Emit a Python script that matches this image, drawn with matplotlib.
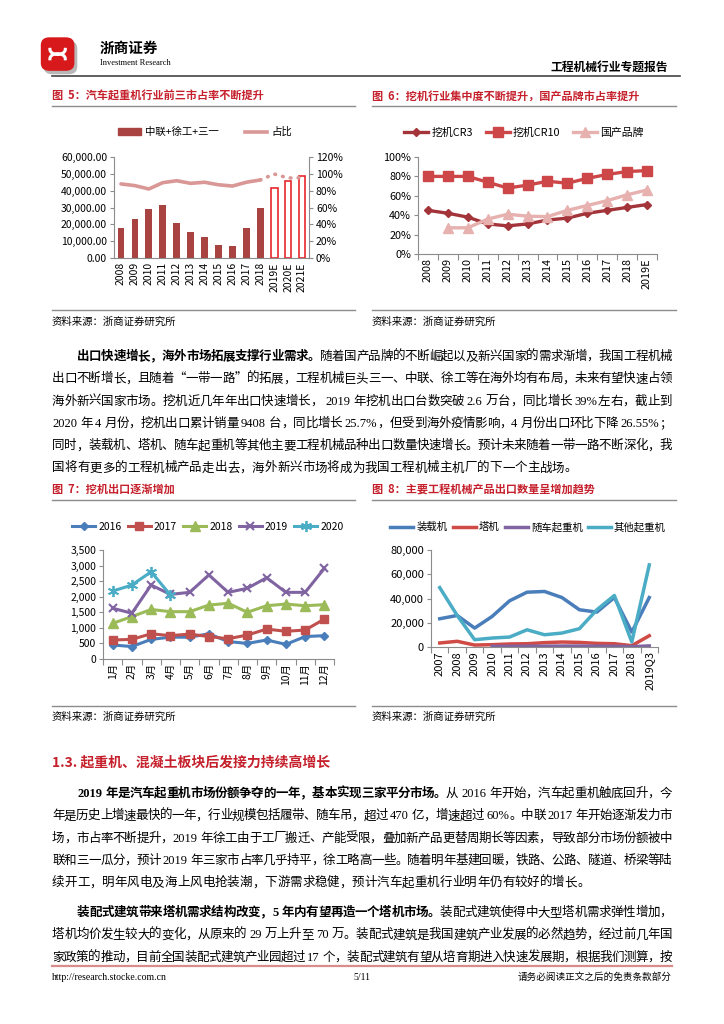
import re
import matplotlib
matplotlib.use('Agg')
import matplotlib.pyplot as plt
import numpy as np
from matplotlib.patches import FancyBboxPatch, Rectangle
from matplotlib.lines import Line2D

plt.rcParams['font.family'] = ['Noto Sans CJK SC', 'DejaVu Sans']
plt.rcParams['axes.unicode_minus'] = False

# ---- data ----
# fig 5: truck crane, top 3 (zoomlion + xcmg + sany)
years5 = ['2008', '2009', '2010', '2011', '2012', '2013', '2014', '2015', '2016',
          '2017', '2018', '2019E', '2020E', '2021E']
top3_sales = [17800, 23200, 29100, 31500, 20800, 15500, 12500, 7900, 7400,
              18000, 29600, 41500, 45500, 48500]
top3_share = [0.88, 0.86, 0.82, 0.895, 0.918, 0.887, 0.90, 0.87, 0.855,
              0.90, 0.927, 0.998, 0.95, 0.955]
n_actual5 = 11

# fig 6: excavator concentration
years6 = ['2008', '2009', '2010', '2011', '2012', '2013', '2014', '2015', '2016',
          '2017', '2018', '2019E']
cr3 = [0.45, 0.42, 0.38, 0.31, 0.29, 0.31, 0.35, 0.37, 0.42, 0.45, 0.48, 0.51]
cr10 = [0.80, 0.80, 0.80, 0.74, 0.68, 0.71, 0.75, 0.73, 0.78, 0.82, 0.85, 0.86]
domestic = [np.nan, 0.27, 0.27, 0.36, 0.41, 0.39, 0.385, 0.45, 0.50, 0.55, 0.61, 0.66]

# fig 7: excavator exports by month
months = ['1月', '2月', '3月', '4月', '5月', '6月', '7月', '8月', '9月', '10月', '11月', '12月']
exp2016 = [450, 400, 630, 700, 700, 810, 560, 500, 610, 470, 720, 750]
exp2017 = [610, 630, 810, 750, 800, 720, 650, 770, 960, 890, 930, 1280]
exp2018 = [1145, 1360, 1590, 1520, 1520, 1730, 1790, 1500, 1710, 1765, 1710, 1745]
exp2019 = [1630, 1470, 2375, 2075, 2140, 2700, 2140, 2270, 2610, 2140, 2140, 2910]
exp2020 = [2180, 2375, 2800, 2055]

# fig 8: main products export volume
years8 = ['2007', '2008', '2009', '2010', '2011', '2012', '2013', '2014', '2015',
          '2016', '2017', '2018', '2019Q3']
loader = [23300, 26000, 15600, 25200, 38100, 45200, 45800, 40800, 30700, 28800, 40800, 12300, 40800]
tower = [3300, 4700, 1600, 1900, 2500, 2700, 3600, 4100, 3800, 3000, 2700, 1100, 9300]
truck_crane = [np.nan, np.nan, np.nan, 500, 600, 700, 700, 800, 800, 700, 600, 300, 900]
other_crane = [49000, 26000, 6000, 7400, 8200, 14200, 10100, 11500, 15100, 30700, 42500, 4100, 67700]

para1 = [
    [('出口快速增长，海外市场拓展支撑行业需求。', True), ('随着国产品牌的不断崛起以及新兴国家的需求渐增，我国工程机械', False)],
    [('出口不断增长，且随着“一带一路”的拓展，工程机械巨头三一、中联、徐工等在海外均有布局，未来有望快速占领', False)],
    [('海外新兴国家市场。挖机近几年年出口快速增长， 2019 年挖机出口台数突破 2.6 万台，同比增长 39%左右，截止到', False)],
    [('2020 年 4 月份，挖机出口累计销量 9408 台，同比增长 25.7%，但受到海外疫情影响，4 月份出口环比下降 26.55%；', False)],
    [('同时，装载机、塔机、随车起重机等其他主要工程机械品种出口数量快速增长。预计未来随着一带一路不断深化，我', False)],
    [('国将有更多的工程机械产品走出去，海外新兴市场将成为我国工程机械主机厂的下一个主战场。', False)],
]
para2 = [
    [('2019 年是汽车起重机市场份额争夺的一年，基本实现三家平分市场。', True), ('从 2016 年开始，汽车起重机触底回升，今', False)],
    [('年是历史上增速最快的一年，行业规模包括履带、随车吊，超过 470 亿，增速超过 60%。中联 2017 年开始逐渐发力市', False)],
    [('场，市占率不断提升，2019 年徐工由于工厂搬迁、产能受限，叠加新产品更替周期长等因素，导致部分市场份额被中', False)],
    [('联和三一瓜分，预计 2019 年三家市占率几乎持平，徐工略高一些。随着明年基建回暖，铁路、公路、隧道、桥梁等陆', False)],
    [('续开工，明年风电及海上风电抢装潮，下游需求稳健，预计汽车起重机行业明年仍有较好的增长。', False)],
]
para3 = [
    [('装配式建筑带来塔机需求结构改变，5 年内有望再造一个塔机市场。', True), ('装配式建筑使得中大型塔机需求弹性增加，', False)],
    [('塔机均价发生较大的变化，从原来的 29 万上升至 70 万。装配式建筑是我国建筑产业发展的必然趋势，经过前几年国', False)],
    [('家政策的推动，目前全国装配式建筑产业园超过 17 个，装配式建筑有望从培育期进入快速发展期，根据我们测算，按', False)],
]

W, H = 724, 1024
fig = plt.figure(figsize=(W / 100, H / 100), dpi=100)
RED = '#C5202B'
GRAY = '#8C8C8C'
CJK = 'Noto Sans CJK SC'
SERIF = ['Liberation Serif', 'Noto Sans CJK SC']


def box(x0, y0, x1, y1):
    return [x0 / W, 1 - y1 / H, (x1 - x0) / W, (y1 - y0) / H]


def ftext(x, y, s, **kw):
    return fig.text(x / W, 1 - y / H, s, **kw)


def hline(x0, x1, y, color, lw):
    fig.add_artist(Line2D([x0 / W, x1 / W], [1 - y / H, 1 - y / H], color=color, lw=lw))


renderer = fig.canvas.get_renderer()


def text_line(x0, x1, y, parts, justify=True, size=9.0):
    # place token by token so the line fills x0..x1 like the justified report text
    em = size * 100 / 72
    toks = []
    for s, bold in parts:
        for tok in re.findall(r'[A-Za-z0-9.%/]+| |.', s):
            toks.append((tok, bold))
    arts, widths = [], []
    for tok, bold in toks:
        wt = 'bold' if bold else 'light'
        if tok == ' ':
            arts.append(None)
            widths.append(em * 0.25)
        elif ord(tok[0]) > 0x2000:
            t = fig.text(0, 1 - y / H, tok, fontsize=size, family=CJK, weight=wt, va='baseline')
            arts.append(t)
            widths.append(em)
        else:
            t = fig.text(0, 1 - y / H, tok, fontsize=size, family=SERIF,
                         weight='bold' if bold else 'normal', va='baseline')
            arts.append(t)
            widths.append(t.get_window_extent(renderer).width + em * 0.05)
    gap = 0
    if justify and len(toks) > 1:
        gap = (x1 - x0 - sum(widths)) / (len(toks) - 1)
    x = x0
    for t, w in zip(arts, widths):
        if t is not None:
            t.set_x(x / W)
        x += w + gap


def paragraph(lines, y0, step=22.3, size=9.0):
    for i, parts in enumerate(lines):
        xs = 52 + 2 * size * 100 / 72 if i == 0 else 52
        last = i == len(lines) - 1 and not parts[-1][0].endswith(('，', '我', '按'))
        text_line(xs, 672, y0 + i * step, parts, justify=not last, size=size)


def style_axis(ax, size=7.5):
    for s in ['top', 'right']:
        ax.spines[s].set_visible(False)
    for s in ['left', 'bottom']:
        ax.spines[s].set_color(GRAY)
        ax.spines[s].set_linewidth(0.8)
    ax.tick_params(axis='y', length=3, width=0.8, color=GRAY, labelsize=size, pad=2)
    ax.tick_params(axis='x', which='major', length=0, labelsize=size, pad=3, rotation=90)
    ax.tick_params(axis='x', which='minor', length=4, width=0.8, color=GRAY)


def cat_ticks(ax, labels):
    n = len(labels)
    ax.set_xlim(-0.5, n - 0.5)
    ax.set_xticks(np.arange(n))
    ax.set_xticklabels(labels)
    ax.set_xticks(np.arange(-0.5, n, 1), minor=True)


# ---- header ----
lax = fig.add_axes(box(36, 33, 84, 76))
lax.set_xlim(0, 1)
lax.set_ylim(0, 1)
lax.axis('off')
lax.add_patch(FancyBboxPatch((0.2, 0.08), 0.62, 0.7, boxstyle='round,pad=0.04,rounding_size=0.18',
                             fc='#9A9A9A', ec='none', alpha=0.7))
lax.add_patch(FancyBboxPatch((0.14, 0.16), 0.62, 0.7, boxstyle='round,pad=0.04,rounding_size=0.18',
                             fc='#D7191C', ec='none'))
th = np.linspace(0, np.pi, 40)
lax.plot(0.45 + 0.16 * np.cos(th), 0.62 + 0.12 * np.sin(th) * -1, color='white', lw=2.2)
lax.plot(0.45 + 0.16 * np.cos(th), 0.40 + 0.12 * np.sin(th), color='white', lw=2.2)
ftext(100, 48, '浙商证券', fontsize=10.5, family=CJK, va='center', weight='bold')
ftext(100, 63, 'Investment Research', fontsize=6, family='Liberation Serif', va='center')
ftext(668, 67, '工程机械行业专题报告', fontsize=8.5, weight='bold', ha='right', va='center')
hline(52, 680, 76, '#444444', 1.2)

# ---- figure titles / sources ----
SRC = '资料来源：浙商证券研究所'
ftext(52, 96, '图  5：汽车起重机行业前三市占率不断提升', fontsize=8, weight='bold', color=RED, va='center')
ftext(372, 96, '图  6：挖机行业集中度不断提升，国产品牌市占率提升', fontsize=8, weight='bold', color=RED, va='center')
hline(52, 355, 106, GRAY, 1.0)
hline(372, 676, 106, GRAY, 1.0)
hline(52, 355, 310, GRAY, 1.0)
hline(372, 676, 310, GRAY, 1.0)
ftext(52, 322, SRC, fontsize=7.5, weight='light', va='center')
ftext(372, 322, SRC, fontsize=7.5, weight='light', va='center')

ftext(52, 489, '图  7：挖机出口逐渐增加', fontsize=8, weight='bold', color=RED, va='center')
ftext(372, 489, '图  8：主要工程机械产品出口数量呈增加趋势', fontsize=8, weight='bold', color=RED, va='center')
hline(52, 355, 500, GRAY, 1.0)
hline(372, 676, 500, GRAY, 1.0)
hline(52, 355, 706, GRAY, 1.0)
hline(372, 676, 706, GRAY, 1.0)
ftext(52, 717, SRC, fontsize=7.5, weight='light', va='center')
ftext(372, 717, SRC, fontsize=7.5, weight='light', va='center')

# ---- fig 5 ----
ax5 = fig.add_axes(box(114, 157, 309, 258))
x5 = np.arange(len(years5))
ax5.bar(x5[:n_actual5], top3_sales[:n_actual5], width=0.48, color='#A94341')
ax5.bar(x5[n_actual5:], top3_sales[n_actual5:], width=0.48, facecolor='white',
        edgecolor='#E8262B', lw=1.2)
ax5.set_ylim(0, 60000)
ax5.set_yticks(np.arange(0, 60001, 10000))
ax5.set_yticklabels([f'{v:,.2f}' for v in np.arange(0, 60001, 10000)])
style_axis(ax5)
cat_ticks(ax5, years5)
ax5.tick_params(axis='x', which='minor', length=0)
ax5r = ax5.twinx()
ax5r.plot(x5[:n_actual5], top3_share[:n_actual5], color='#D99795', lw=2.6, solid_capstyle='round')
ax5r.plot(x5[n_actual5 - 1:], top3_share[n_actual5 - 1:], color='#D99795', lw=2.6,
          ls=(0, (0.2, 2.0)), dash_capstyle='round')
ax5r.set_ylim(0, 1.2)
ax5r.set_yticks(np.arange(0, 1.21, 0.2))
ax5r.set_yticklabels([f'{int(round(v * 100))}%' for v in np.arange(0, 1.21, 0.2)])
for s in ['top', 'left', 'bottom']:
    ax5r.spines[s].set_visible(False)
ax5r.spines['right'].set_color(GRAY)
ax5r.tick_params(axis='y', length=3, width=0.8, color=GRAY, labelsize=7.5, pad=2)
fig.legend([Rectangle((0, 0), 1, 1, color='#A94341'), Line2D([], [], color='#D99795', lw=2.6)],
           ['中联+徐工+三一', '占比'], loc='center', bbox_to_anchor=(205 / W, 1 - 132 / H),
           ncol=2, frameon=False, fontsize=7.5, handlelength=2.2, handleheight=0.6,
           columnspacing=2.5, handletextpad=0.4)

# ---- fig 6 ----
ax6 = fig.add_axes(box(418, 157, 657, 254))
x6 = np.arange(len(years6))
l1, = ax6.plot(x6, cr3, color='#A3343A', lw=2.4, marker='D', ms=4.5)
l2, = ax6.plot(x6, cr10, color='#CD4749', lw=2.4, marker='s', ms=6.5)
l3, = ax6.plot(x6, domestic, color='#E6B1AF', lw=2.4, marker='^', ms=6.5)
ax6.set_ylim(0, 1.0)
ax6.set_yticks(np.arange(0, 1.01, 0.2))
ax6.set_yticklabels([f'{int(round(v * 100))}%' for v in np.arange(0, 1.01, 0.2)])
style_axis(ax6, 7.8)
cat_ticks(ax6, years6)
fig.legend([l1, l2, l3], ['挖机CR3', '挖机CR10', '国产品牌'], loc='center',
           bbox_to_anchor=(524 / W, 1 - 133 / H), ncol=3, frameon=False, fontsize=7.8,
           handlelength=2.2, columnspacing=1.2, handletextpad=0.3)

# ---- fig 7 ----
ax7 = fig.add_axes(box(103, 550, 334, 659))
x7 = np.arange(len(months))
h = []
h += ax7.plot(x7, exp2016, color='#4A7EBB', lw=2.2, marker='D', ms=4.5)
h += ax7.plot(x7, exp2017, color='#C0504D', lw=2.2, marker='s', ms=6)
h += ax7.plot(x7, exp2018, color='#9BBB59', lw=2.2, marker='^', ms=6.5)
h += ax7.plot(x7, exp2019, color='#8064A2', lw=2.2, marker='x', ms=6, mew=1.5)
h += ax7.plot(x7[:len(exp2020)], exp2020, color='#4BACC6', lw=2.2, marker=(6, 2, 0), ms=8, mew=1.3)
ax7.set_ylim(0, 3500)
ax7.set_yticks(np.arange(0, 3501, 500))
ax7.set_yticklabels([f'{v:,}' for v in np.arange(0, 3501, 500)])
style_axis(ax7, 7.5)
cat_ticks(ax7, months)
fig.legend(h, ['2016', '2017', '2018', '2019', '2020'], loc='center',
           bbox_to_anchor=(208 / W, 1 - 527 / H), ncol=5, frameon=False, fontsize=7.5,
           handlelength=2.2, columnspacing=0.6, handletextpad=0.3)

# ---- fig 8 ----
ax8 = fig.add_axes(box(431, 550, 658, 647))
x8 = np.arange(len(years8))
h = []
h += ax8.plot(x8, loader, color='#4A7EBB', lw=2.5)
h += ax8.plot(x8, tower, color='#D04A46', lw=2.5)
h += ax8.plot(x8, truck_crane, color='#8064A2', lw=2.5)
h += ax8.plot(x8, other_crane, color='#4BACC6', lw=2.5)
ax8.set_ylim(0, 80000)
ax8.set_yticks(np.arange(0, 80001, 20000))
ax8.set_yticklabels([f'{v:,}' for v in np.arange(0, 80001, 20000)])
style_axis(ax8, 8)
cat_ticks(ax8, years8)
fig.legend(h, ['装载机', '塔机', '随车起重机', '其他起重机'], loc='center',
           bbox_to_anchor=(528 / W, 1 - 527 / H), ncol=4, frameon=False, fontsize=7.5,
           handlelength=2.2, columnspacing=0.5, handletextpad=0.3)

# ---- body text ----
paragraph(para1, 360)
ftext(52, 762, '1.3. 起重机、混凝土板块后发接力持续高增长', fontsize=10, weight='bold', color=RED, va='center')
paragraph(para2, 797)
paragraph(para3, 916)

# ---- footer ----
hline(52, 672, 966, '#D98C8C', 1.6)
ftext(52, 977, 'http://research.stocke.com.cn', fontsize=7, family='Liberation Serif', va='center')
ftext(362, 977, '5/11', fontsize=7, family='Liberation Serif', va='center', ha='center')
ftext(672, 977, '请务必阅读正文之后的免责条款部分', fontsize=6.9, weight='light', va='center', ha='right')

fig.savefig('out.png', dpi=100)
